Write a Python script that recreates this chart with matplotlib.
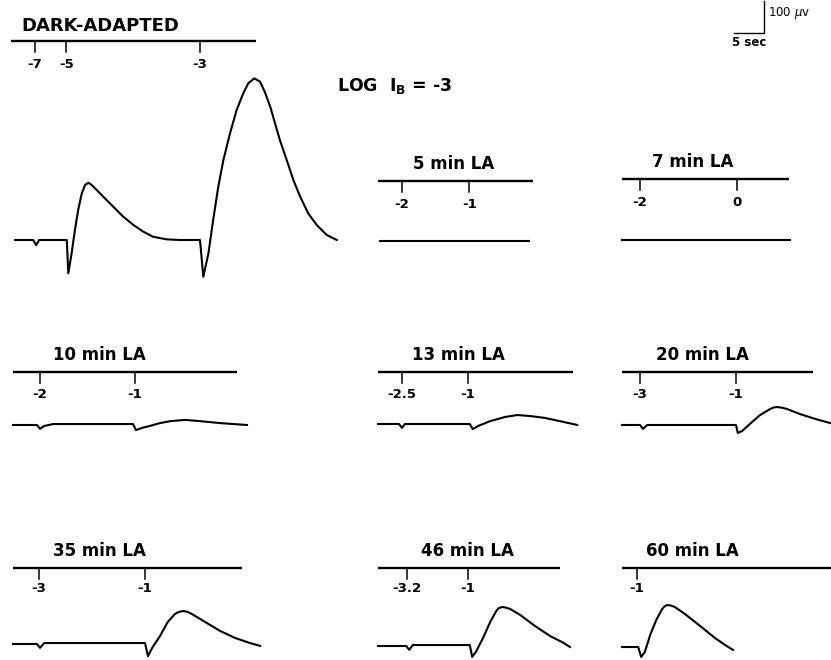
import matplotlib.pyplot as plt

# ---- data: flash times (s) on each timeline, log intensity labels, and ERG traces (s, uV)
da_axis_end = 40.8
da_ticks = [4.0, 9.2, 31.5]
da_tick_labels = ["-7", "-5", "-3"]
da_t = [0.7, 3.7, 4.2, 4.7, 9.3, 9.55, 10.1, 10.65, 11.2, 11.8, 12.35, 12.9, 13.45, 14.3,
        15.4, 17.05, 18.7, 20.4, 22.05, 23.7, 25.95, 28.2, 31.5, 32.05, 32.9, 33.7, 34.55,
        35.4, 36.5, 37.6, 38.7, 39.55, 40.55, 41.5, 42.3, 43.2, 44.0, 44.8, 45.95, 47.05,
        48.2, 49.55, 50.95, 52.6, 54.3]
da_v = [0, 0, -16, 0, 0, -104, -42, 31, 94, 146, 172, 179, 172, 156,
        135, 104, 73, 47, 26, 10, 2, 0, 0, -115, -42, 63, 167,
        250, 333, 406, 458, 490, 505, 495, 463, 417, 365, 313, 250, 188,
        135, 83, 47, 16, 0]

la5_axis_end = 25.8
la5_ticks = [4.0, 15.2]
la5_tick_labels = ["-2", "-1"]
la5_t = [0.3, 25.2]
la5_v = [0, 0]

la7_axis_end = 27.8
la7_ticks = [3.0, 19.2]
la7_tick_labels = ["-2", "0"]
la7_t = [0.0, 28.0]
la7_v = [0, 0]

la10_axis_end = 37.3
la10_ticks = [4.5, 20.3]
la10_tick_labels = ["-2", "-1"]
la10_t = [0.0, 4.0, 4.5, 5.2, 6.7, 20.0, 20.5, 21.5, 22.8, 24.5, 26.2, 28.7, 31.2, 34.5, 39.0]
la10_v = [0, 0, -12, -3, 3, 3, -16, -9, -3, 6, 12, 16, 12, 6, 0]

la13_axis_end = 32.5
la13_ticks = [4.0, 15.0]
la13_tick_labels = ["-2.5", "-1"]
la13_t = [0.0, 3.5, 4.0, 4.5, 15.3, 15.8, 16.7, 18.7, 21.2, 23.2, 25.3, 27.8, 30.3, 33.2]
la13_v = [0, 0, -12, 0, 0, -16, -6, 9, 22, 28, 25, 19, 9, -3]

la20_axis_end = 31.8
la20_ticks = [3.0, 19.0]
la20_tick_labels = ["-3", "-1"]
la20_t = [0.0, 3.0, 3.5, 4.2, 19.0, 19.3, 20.0, 21.3, 23.0, 24.7, 25.3, 25.9, 26.7, 27.5,
          29.7, 32.2, 34.7]
la20_v = [0, 0, -12, 0, 0, -25, -19, 3, 31, 50, 55, 56, 54, 50, 34, 19, 6]

la35_axis_end = 38.2
la35_ticks = [4.3, 22.0]
la35_tick_labels = ["-3", "-1"]
la35_t = [0.0, 4.0, 4.5, 5.2, 22.0, 22.5, 23.2, 24.5, 25.8, 27.0, 27.6, 28.3, 29.0, 29.8,
          32.0, 34.5, 37.0, 39.5, 41.2]
la35_v = [0, 0, -12, 3, 3, -38, -12, 25, 69, 94, 100, 103, 101, 94, 69, 41, 19, 3, -6]

la46_axis_end = 30.3
la46_ticks = [4.8, 15.0]
la46_tick_labels = ["-3.2", "-1"]
la46_t = [0.0, 4.7, 5.2, 5.8, 15.3, 15.7, 16.3, 17.5, 18.7, 19.7, 20.1, 20.7, 21.3, 22.0,
          23.7, 26.2, 28.7, 30.7, 32.0]
la46_v = [0, 0, -12, 3, 3, -34, -19, 25, 75, 109, 118, 122, 120, 116, 97, 62, 31, 12, -3]

la60_axis_end = 34.8
la60_ticks = [2.5]
la60_tick_labels = ["-1"]
la60_t = [0.0, 2.7, 3.2, 3.8, 4.7, 5.7, 6.7, 7.1, 7.5, 8.1, 8.8, 10.5, 13.0, 15.5, 17.2, 18.5]
la60_v = [0, 0, -31, -16, 38, 84, 119, 127, 131, 130, 125, 103, 66, 28, 6, -9]

scale_sec = 5
scale_uv = 100

# ---- layout (pixels of the 831x660 figure)
W, H = 831, 660
PX_S = 6.0      # pixels per second
PX_UV = 0.32    # pixels per microvolt

fig = plt.figure(figsize=(W / 100, H / 100), dpi=100)
fig.patch.set_facecolor("white")


def panel_axes(x0, y0):
    # axes whose data origin (t=0, v=0) sits at pixel (x0, y0)
    left, right = x0 - 20, x0 + 260
    top, bottom = y0 - 260, y0 + 50
    ax = fig.add_axes([left / W, 1 - bottom / H, (right - left) / W, (bottom - top) / H])
    ax.set_xlim((left - x0) / PX_S, (right - x0) / PX_S)
    ax.set_ylim((y0 - bottom) / PX_UV, (y0 - top) / PX_UV)
    ax.axis("off")
    return ax


def draw_panel(title, axis_end, ticks, tick_labels, t, v, x0, base_y, line_y, title_x,
               title_ha="center", title_dy=17, label_dy=23, title_size=12):
    ax = panel_axes(x0, base_y)
    lv = (base_y - line_y) / PX_UV
    ax.plot([0, axis_end], [lv, lv], color="black", lw=1.7, solid_capstyle="butt", clip_on=False)
    for tk, lab in zip(ticks, tick_labels):
        ax.plot([tk, tk], [lv, lv - 11 / PX_UV], color="black", lw=1.1, clip_on=False)
        ax.text(tk, lv - label_dy / PX_UV, lab, ha="center", va="center",
                fontsize=9.5, fontweight="bold")
    ax.text((title_x - x0) / PX_S, lv + title_dy / PX_UV, title, ha=title_ha, va="center",
            fontsize=title_size, fontweight="bold")
    ax.plot(t, v, color="black", lw=1.5, solid_joinstyle="round", clip_on=False)


draw_panel("DARK-ADAPTED", da_axis_end, da_ticks, da_tick_labels, da_t, da_v,
           11, 240, 41, 21, title_ha="left", title_dy=15, label_dy=24, title_size=13)
draw_panel("5 min LA", la5_axis_end, la5_ticks, la5_tick_labels, la5_t, la5_v,
           378, 241, 181, 454)
draw_panel("7 min LA", la7_axis_end, la7_ticks, la7_tick_labels, la7_t, la7_v,
           622, 240, 179, 693)
draw_panel("10 min LA", la10_axis_end, la10_ticks, la10_tick_labels, la10_t, la10_v,
           13, 425, 372, 99)
draw_panel("13 min LA", la13_axis_end, la13_ticks, la13_tick_labels, la13_t, la13_v,
           378, 424, 372, 458)
draw_panel("20 min LA", la20_axis_end, la20_ticks, la20_tick_labels, la20_t, la20_v,
           622, 425, 372, 702)
draw_panel("35 min LA", la35_axis_end, la35_ticks, la35_tick_labels, la35_t, la35_v,
           13, 644, 568, 99, label_dy=21)
draw_panel("46 min LA", la46_axis_end, la46_ticks, la46_tick_labels, la46_t, la46_v,
           378, 646, 568, 467, label_dy=21)
draw_panel("60 min LA", la60_axis_end, la60_ticks, la60_tick_labels, la60_t, la60_v,
           622, 647, 568, 692, label_dy=21)

# stimulus intensity note
fig.text(337 / W, 1 - 86 / H, r"LOG  I$_\mathregular{B}$ = -3", ha="left", va="center",
         fontsize=12.5, fontweight="bold")

# calibration bars
sax = panel_axes(764, 33)
sax.plot([-scale_sec, 0, 0], [0, 0, scale_uv], color="black", lw=1.0, clip_on=False)
sax.text(0.6, scale_uv * 0.62, r"100 $\mu$v", ha="left", va="center", fontsize=8.5)
sax.text(-scale_sec * 1.05, -10 / PX_UV, "5 sec", ha="left", va="center", fontsize=8.5,
         fontweight="bold")

fig.savefig("out.png", dpi=100, facecolor="white")
